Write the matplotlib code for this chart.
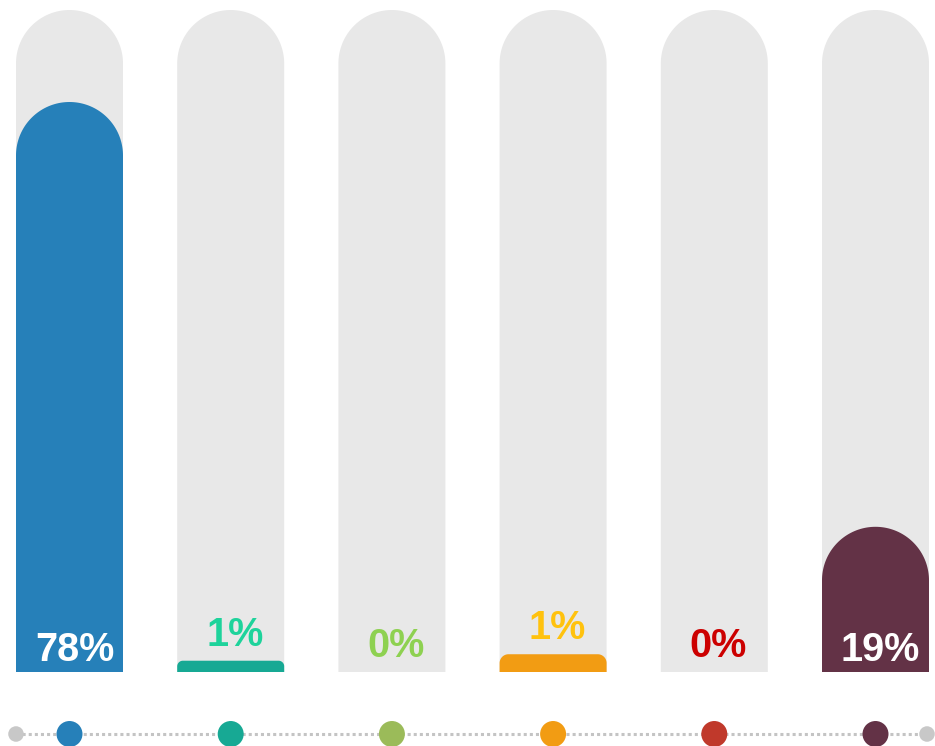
import numpy as np
import matplotlib
matplotlib.use("Agg")
import matplotlib.pyplot as plt
from matplotlib.patches import Polygon

plt.rcParams['font.family'] = ['Liberation Sans', 'DejaVu Sans']

# ---- data ----
categories = ["A", "B", "C", "D", "E", "F"]
values = [78.0, 0.4, 0.0, 1.3, 0.0, 19.0]
labels = ["78%", "1%", "0%", "1%", "0%", "19%"]
bar_colors = ["#2680B9", "#17A994", "#9BBB59", "#F29C13", "#C0392B", "#633246"]
label_colors = ["#FFFFFF", "#1ED39B", "#8ED151", "#FFC20E", "#CC0000", "#FFFFFF"]

# ---- figure / scale setup ----
W, H, DPI = 935, 746, 100
fig = plt.figure(figsize=(W / DPI, H / DPI), dpi=DPI)
ax = fig.add_axes([0, 0, 1, 1])
ax.set_axis_off()

px_per_x = 161.2          # pixels per category
px_per_y = 7.2            # pixels per percent
x0_px = 69.5              # centre of first category in px
base_px = 672             # baseline in px (from top)
ax.set_xlim(-x0_px / px_per_x, (W - x0_px) / px_per_x)
ax.set_ylim((base_px - H) / px_per_y, base_px / px_per_y)

bar_w_px = 107
cap_px = 8.4 / px_per_y    # minimum visible cap for nonzero bars (in data units)
track_top = (base_px - 10) / px_per_y
track_color = "#E8E8E8"
PT = 0.72                  # points per pixel at 100 dpi


def rounded_top(xc, y0, y1, width_px, color, zorder):
    h_px = (y1 - y0) * px_per_y
    if h_px <= 0:
        return
    r_px = width_px / 2 if h_px >= width_px else min(width_px / 2, h_px / 2)
    rx = r_px / px_per_x
    ry = r_px / px_per_y
    hw = width_px / 2 / px_per_x
    xl, xr = xc - hw, xc + hw
    t = np.linspace(0, np.pi / 2, 40)
    pts = [(xl, y0), (xl, y1 - ry)]
    for a in t:
        pts.append((xl + rx - rx * np.cos(a), y1 - ry + ry * np.sin(a)))
    for a in t[::-1]:
        pts.append((xr - rx + rx * np.cos(a), y1 - ry + ry * np.sin(a)))
    pts += [(xr, y1 - ry), (xr, y0)]
    ax.add_patch(Polygon(pts, closed=True, facecolor=color, edgecolor="none",
                         zorder=zorder, antialiased=True))


x = np.arange(len(categories))
for i, (v, lab, bc, lc) in enumerate(zip(values, labels, bar_colors, label_colors)):
    rounded_top(x[i], 0, track_top, bar_w_px, track_color, 1)
    top = v + cap_px if v > 0 else 0
    rounded_top(x[i], 0, top, bar_w_px, bc, 2)
    top_px = top * px_per_y
    if top_px > 60:
        ax.annotate(lab, (x[i], 0), xytext=(5 * PT, 11 * PT), textcoords="offset points",
                    ha="center", va="baseline", fontsize=28.5, fontweight="bold",
                    color=lc, zorder=5)
    else:
        ax.annotate(lab, (x[i], top), xytext=(4 * PT, 15 * PT), textcoords="offset points",
                    ha="center", va="baseline", fontsize=28.5, fontweight="bold",
                    color=lc, zorder=5)

# ---- bottom timeline ----
line_y = (base_px - 734) / px_per_y
end_l = (16 - x0_px) / px_per_x
end_r = (927 - x0_px) / px_per_x
ax.plot([end_l, end_r], [line_y, line_y], color="#C4C4C4", linewidth=2.2,
        linestyle=(0, (1.0, 1.0)), zorder=3, solid_capstyle="butt")
ax.scatter([end_l, end_r], [line_y, line_y], s=125, color="#C8C8C8",
           edgecolors="none", zorder=4)
ax.scatter(x, np.full(len(x), line_y), s=350, color=bar_colors,
           edgecolors="none", zorder=4)

fig.savefig("out.png", dpi=DPI, facecolor="white")
